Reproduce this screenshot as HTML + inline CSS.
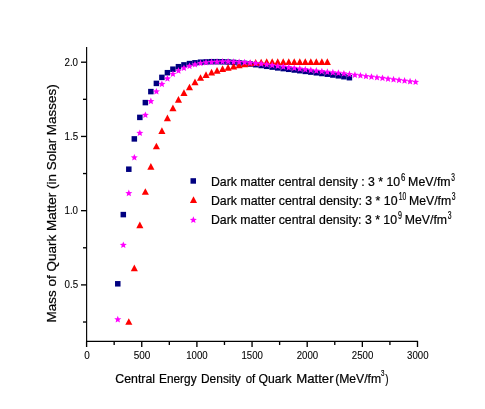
<!DOCTYPE html>
<html><head><meta charset="utf-8"><title>chart</title>
<style>
html,body{margin:0;padding:0;background:#fff;}
svg{display:block;font-family:"Liberation Sans",sans-serif;}
</style></head><body>
<svg width="485" height="409" viewBox="0 0 485 409">
<rect width="485" height="409" fill="#fff"/>

<g fill="#000080"><rect x="115.03" y="281.05" width="5.5" height="5.5"/><rect x="120.55" y="211.85" width="5.5" height="5.5"/><rect x="126.06" y="166.45" width="5.5" height="5.5"/><rect x="131.58" y="136.15" width="5.5" height="5.5"/><rect x="137.09" y="114.65" width="5.5" height="5.5"/><rect x="142.61" y="99.85" width="5.5" height="5.5"/><rect x="148.12" y="88.85" width="5.5" height="5.5"/><rect x="153.64" y="80.65" width="5.5" height="5.5"/><rect x="159.15" y="74.65" width="5.5" height="5.5"/><rect x="164.67" y="69.95" width="5.5" height="5.5"/><rect x="170.18" y="66.45" width="5.5" height="5.5"/><rect x="175.70" y="63.95" width="5.5" height="5.5"/><rect x="181.21" y="62.15" width="5.5" height="5.5"/><rect x="186.73" y="60.85" width="5.5" height="5.5"/><rect x="192.24" y="60.05" width="5.5" height="5.5"/><rect x="197.76" y="59.45" width="5.5" height="5.5"/><rect x="203.27" y="59.15" width="5.5" height="5.5"/><rect x="208.79" y="58.95" width="5.5" height="5.5"/><rect x="214.30" y="58.95" width="5.5" height="5.5"/><rect x="219.82" y="59.05" width="5.5" height="5.5"/><rect x="225.33" y="59.25" width="5.5" height="5.5"/><rect x="230.85" y="59.65" width="5.5" height="5.5"/><rect x="236.36" y="60.15" width="5.5" height="5.5"/><rect x="241.88" y="60.65" width="5.5" height="5.5"/><rect x="247.39" y="61.25" width="5.5" height="5.5"/><rect x="252.91" y="61.95" width="5.5" height="5.5"/><rect x="258.42" y="62.75" width="5.5" height="5.5"/><rect x="263.94" y="63.55" width="5.5" height="5.5"/><rect x="269.45" y="64.35" width="5.5" height="5.5"/><rect x="274.97" y="65.15" width="5.5" height="5.5"/><rect x="280.48" y="65.85" width="5.5" height="5.5"/><rect x="286.00" y="66.55" width="5.5" height="5.5"/><rect x="291.51" y="67.25" width="5.5" height="5.5"/><rect x="297.03" y="67.95" width="5.5" height="5.5"/><rect x="302.54" y="68.65" width="5.5" height="5.5"/><rect x="308.06" y="69.35" width="5.5" height="5.5"/><rect x="313.57" y="70.05" width="5.5" height="5.5"/><rect x="319.09" y="70.75" width="5.5" height="5.5"/><rect x="324.60" y="71.45" width="5.5" height="5.5"/><rect x="330.12" y="72.25" width="5.5" height="5.5"/><rect x="335.63" y="73.05" width="5.5" height="5.5"/><rect x="341.15" y="73.95" width="5.5" height="5.5"/><rect x="346.66" y="74.95" width="5.5" height="5.5"/></g>
<g fill="#ff0000"><polygon points="128.81,318.15 132.36,324.85 125.26,324.85"/><polygon points="134.33,264.55 137.88,271.25 130.78,271.25"/><polygon points="139.84,221.45 143.39,228.15 136.29,228.15"/><polygon points="145.36,188.15 148.91,194.85 141.81,194.85"/><polygon points="150.87,163.05 154.42,169.75 147.32,169.75"/><polygon points="156.39,142.65 159.94,149.35 152.84,149.35"/><polygon points="161.90,127.25 165.45,133.95 158.35,133.95"/><polygon points="167.42,114.55 170.97,121.25 163.87,121.25"/><polygon points="172.93,104.45 176.48,111.15 169.38,111.15"/><polygon points="178.45,96.05 182.00,102.75 174.90,102.75"/><polygon points="183.96,89.25 187.51,95.95 180.41,95.95"/><polygon points="189.48,83.65 193.03,90.35 185.93,90.35"/><polygon points="194.99,78.55 198.54,85.25 191.44,85.25"/><polygon points="200.51,74.15 204.06,80.85 196.96,80.85"/><polygon points="206.02,71.25 209.57,77.95 202.47,77.95"/><polygon points="211.54,68.75 215.09,75.45 207.99,75.45"/><polygon points="217.05,66.95 220.60,73.65 213.50,73.65"/><polygon points="222.57,65.35 226.12,72.05 219.02,72.05"/><polygon points="228.08,63.95 231.63,70.65 224.53,70.65"/><polygon points="233.60,62.75 237.15,69.45 230.05,69.45"/><polygon points="239.11,61.65 242.66,68.35 235.56,68.35"/><polygon points="244.63,60.55 248.18,67.25 241.08,67.25"/><polygon points="250.14,59.65 253.69,66.35 246.59,66.35"/><polygon points="255.66,59.05 259.21,65.75 252.11,65.75"/><polygon points="261.17,58.65 264.72,65.35 257.62,65.35"/><polygon points="266.69,58.35 270.24,65.05 263.14,65.05"/><polygon points="272.20,58.25 275.75,64.95 268.65,64.95"/><polygon points="277.72,58.25 281.27,64.95 274.17,64.95"/><polygon points="283.23,58.25 286.78,64.95 279.68,64.95"/><polygon points="288.75,58.25 292.30,64.95 285.20,64.95"/><polygon points="294.26,58.25 297.81,64.95 290.71,64.95"/><polygon points="299.78,58.25 303.33,64.95 296.23,64.95"/><polygon points="305.29,58.25 308.84,64.95 301.74,64.95"/><polygon points="310.81,58.25 314.36,64.95 307.26,64.95"/><polygon points="316.32,58.25 319.87,64.95 312.77,64.95"/><polygon points="321.84,58.25 325.39,64.95 318.29,64.95"/><polygon points="327.35,58.25 330.90,64.95 323.80,64.95"/></g>
<g fill="#ff00ff"><polygon points="117.78,315.80 118.75,318.17 121.30,318.36 119.35,320.01 119.96,322.49 117.78,321.15 115.61,322.49 116.21,320.01 114.27,318.36 116.81,318.17"/><polygon points="123.30,241.40 124.27,243.77 126.82,243.96 124.87,245.61 125.47,248.09 123.30,246.75 121.12,248.09 121.73,245.61 119.78,243.96 122.33,243.77"/><polygon points="128.81,189.60 129.78,191.97 132.33,192.16 130.38,193.81 130.99,196.29 128.81,194.95 126.64,196.29 127.24,193.81 125.30,192.16 127.84,191.97"/><polygon points="134.33,153.90 135.30,156.27 137.85,156.46 135.90,158.11 136.50,160.59 134.33,159.25 132.15,160.59 132.76,158.11 130.81,156.46 133.36,156.27"/><polygon points="139.84,129.40 140.81,131.77 143.36,131.96 141.41,133.61 142.02,136.09 139.84,134.75 137.67,136.09 138.27,133.61 136.33,131.96 138.87,131.77"/><polygon points="145.36,111.40 146.33,113.77 148.88,113.96 146.93,115.61 147.53,118.09 145.36,116.75 143.18,118.09 143.79,115.61 141.84,113.96 144.39,113.77"/><polygon points="150.87,97.60 151.84,99.97 154.39,100.16 152.44,101.81 153.05,104.29 150.87,102.95 148.70,104.29 149.30,101.81 147.36,100.16 149.90,99.97"/><polygon points="156.39,87.90 157.36,90.27 159.91,90.46 157.96,92.11 158.56,94.59 156.39,93.25 154.21,94.59 154.82,92.11 152.87,90.46 155.42,90.27"/><polygon points="161.90,80.50 162.87,82.87 165.42,83.06 163.47,84.71 164.08,87.19 161.90,85.85 159.73,87.19 160.33,84.71 158.39,83.06 160.93,82.87"/><polygon points="167.42,75.00 168.39,77.37 170.94,77.56 168.99,79.21 169.59,81.69 167.42,80.35 165.24,81.69 165.85,79.21 163.90,77.56 166.45,77.37"/><polygon points="172.93,70.40 173.90,72.77 176.45,72.96 174.50,74.61 175.11,77.09 172.93,75.75 170.76,77.09 171.36,74.61 169.42,72.96 171.96,72.77"/><polygon points="178.45,67.10 179.42,69.47 181.97,69.66 180.02,71.31 180.62,73.79 178.45,72.45 176.27,73.79 176.88,71.31 174.93,69.66 177.48,69.47"/><polygon points="183.96,64.40 184.93,66.77 187.48,66.96 185.53,68.61 186.14,71.09 183.96,69.75 181.79,71.09 182.39,68.61 180.45,66.96 182.99,66.77"/><polygon points="189.48,62.50 190.45,64.87 193.00,65.06 191.05,66.71 191.65,69.19 189.48,67.85 187.30,69.19 187.91,66.71 185.96,65.06 188.51,64.87"/><polygon points="194.99,60.90 195.96,63.27 198.51,63.46 196.56,65.11 197.17,67.59 194.99,66.25 192.82,67.59 193.42,65.11 191.48,63.46 194.02,63.27"/><polygon points="200.51,59.60 201.48,61.97 204.03,62.16 202.08,63.81 202.68,66.29 200.51,64.95 198.33,66.29 198.94,63.81 196.99,62.16 199.54,61.97"/><polygon points="206.02,58.80 206.99,61.17 209.54,61.36 207.59,63.01 208.20,65.49 206.02,64.15 203.85,65.49 204.45,63.01 202.51,61.36 205.05,61.17"/><polygon points="211.54,58.50 212.51,60.87 215.06,61.06 213.11,62.71 213.71,65.19 211.54,63.85 209.36,65.19 209.97,62.71 208.02,61.06 210.57,60.87"/><polygon points="217.05,58.20 218.02,60.57 220.57,60.76 218.62,62.41 219.23,64.89 217.05,63.55 214.88,64.89 215.48,62.41 213.54,60.76 216.08,60.57"/><polygon points="222.57,58.00 223.54,60.37 226.09,60.56 224.14,62.21 224.74,64.69 222.57,63.35 220.39,64.69 221.00,62.21 219.05,60.56 221.60,60.37"/><polygon points="228.08,58.00 229.05,60.37 231.60,60.56 229.65,62.21 230.26,64.69 228.08,63.35 225.91,64.69 226.51,62.21 224.57,60.56 227.11,60.37"/><polygon points="233.60,58.20 234.57,60.57 237.12,60.76 235.17,62.41 235.77,64.89 233.60,63.55 231.42,64.89 232.03,62.41 230.08,60.76 232.63,60.57"/><polygon points="239.11,58.40 240.08,60.77 242.63,60.96 240.68,62.61 241.29,65.09 239.11,63.75 236.94,65.09 237.54,62.61 235.60,60.96 238.14,60.77"/><polygon points="244.63,58.70 245.60,61.07 248.15,61.26 246.20,62.91 246.80,65.39 244.63,64.05 242.45,65.39 243.06,62.91 241.11,61.26 243.66,61.07"/><polygon points="250.14,59.20 251.11,61.57 253.66,61.76 251.71,63.41 252.32,65.89 250.14,64.55 247.97,65.89 248.57,63.41 246.63,61.76 249.17,61.57"/><polygon points="255.66,59.70 256.63,62.07 259.18,62.26 257.23,63.91 257.83,66.39 255.66,65.05 253.48,66.39 254.09,63.91 252.14,62.26 254.69,62.07"/><polygon points="261.17,60.20 262.14,62.57 264.69,62.76 262.74,64.41 263.35,66.89 261.17,65.55 259.00,66.89 259.60,64.41 257.66,62.76 260.20,62.57"/><polygon points="266.69,60.90 267.66,63.27 270.21,63.46 268.26,65.11 268.86,67.59 266.69,66.25 264.51,67.59 265.12,65.11 263.17,63.46 265.72,63.27"/><polygon points="272.20,61.60 273.17,63.97 275.72,64.16 273.77,65.81 274.38,68.29 272.20,66.95 270.03,68.29 270.63,65.81 268.69,64.16 271.23,63.97"/><polygon points="277.72,62.40 278.69,64.77 281.24,64.96 279.29,66.61 279.89,69.09 277.72,67.75 275.54,69.09 276.15,66.61 274.20,64.96 276.75,64.77"/><polygon points="283.23,63.10 284.20,65.47 286.75,65.66 284.80,67.31 285.41,69.79 283.23,68.45 281.06,69.79 281.66,67.31 279.72,65.66 282.26,65.47"/><polygon points="288.75,63.80 289.72,66.17 292.27,66.36 290.32,68.01 290.92,70.49 288.75,69.15 286.57,70.49 287.18,68.01 285.23,66.36 287.78,66.17"/><polygon points="294.26,64.40 295.23,66.77 297.78,66.96 295.83,68.61 296.44,71.09 294.26,69.75 292.09,71.09 292.69,68.61 290.75,66.96 293.29,66.77"/><polygon points="299.78,65.10 300.75,67.47 303.30,67.66 301.35,69.31 301.95,71.79 299.78,70.45 297.60,71.79 298.21,69.31 296.26,67.66 298.81,67.47"/><polygon points="305.29,65.80 306.26,68.17 308.81,68.36 306.86,70.01 307.47,72.49 305.29,71.15 303.12,72.49 303.72,70.01 301.78,68.36 304.32,68.17"/><polygon points="310.81,66.50 311.78,68.87 314.33,69.06 312.38,70.71 312.98,73.19 310.81,71.85 308.63,73.19 309.24,70.71 307.29,69.06 309.84,68.87"/><polygon points="316.32,67.10 317.29,69.47 319.84,69.66 317.89,71.31 318.50,73.79 316.32,72.45 314.15,73.79 314.75,71.31 312.81,69.66 315.35,69.47"/><polygon points="321.84,67.70 322.81,70.07 325.36,70.26 323.41,71.91 324.01,74.39 321.84,73.05 319.66,74.39 320.27,71.91 318.32,70.26 320.87,70.07"/><polygon points="327.35,68.30 328.32,70.67 330.87,70.86 328.92,72.51 329.53,74.99 327.35,73.65 325.18,74.99 325.78,72.51 323.84,70.86 326.38,70.67"/><polygon points="332.87,68.80 333.84,71.17 336.39,71.36 334.44,73.01 335.04,75.49 332.87,74.15 330.69,75.49 331.30,73.01 329.35,71.36 331.90,71.17"/><polygon points="338.38,69.30 339.35,71.67 341.90,71.86 339.95,73.51 340.56,75.99 338.38,74.65 336.21,75.99 336.81,73.51 334.87,71.86 337.41,71.67"/><polygon points="343.90,69.90 344.87,72.27 347.42,72.46 345.47,74.11 346.07,76.59 343.90,75.25 341.72,76.59 342.33,74.11 340.38,72.46 342.93,72.27"/><polygon points="349.41,70.60 350.38,72.97 352.93,73.16 350.98,74.81 351.59,77.29 349.41,75.95 347.24,77.29 347.84,74.81 345.90,73.16 348.44,72.97"/><polygon points="354.93,71.30 355.90,73.67 358.45,73.86 356.50,75.51 357.10,77.99 354.93,76.65 352.75,77.99 353.36,75.51 351.41,73.86 353.96,73.67"/><polygon points="360.44,71.90 361.41,74.27 363.96,74.46 362.01,76.11 362.62,78.59 360.44,77.25 358.27,78.59 358.87,76.11 356.93,74.46 359.47,74.27"/><polygon points="365.96,72.60 366.93,74.97 369.48,75.16 367.53,76.81 368.13,79.29 365.96,77.95 363.78,79.29 364.39,76.81 362.44,75.16 364.99,74.97"/><polygon points="371.47,73.20 372.44,75.57 374.99,75.76 373.04,77.41 373.65,79.89 371.47,78.55 369.30,79.89 369.90,77.41 367.96,75.76 370.50,75.57"/><polygon points="376.99,73.80 377.96,76.17 380.51,76.36 378.56,78.01 379.16,80.49 376.99,79.15 374.81,80.49 375.42,78.01 373.47,76.36 376.02,76.17"/><polygon points="382.50,74.50 383.47,76.87 386.02,77.06 384.07,78.71 384.68,81.19 382.50,79.85 380.33,81.19 380.93,78.71 378.99,77.06 381.53,76.87"/><polygon points="388.02,75.20 388.99,77.57 391.54,77.76 389.59,79.41 390.19,81.89 388.02,80.55 385.84,81.89 386.45,79.41 384.50,77.76 387.05,77.57"/><polygon points="393.53,75.80 394.50,78.17 397.05,78.36 395.10,80.01 395.71,82.49 393.53,81.15 391.36,82.49 391.96,80.01 390.02,78.36 392.56,78.17"/><polygon points="399.05,76.50 400.02,78.87 402.57,79.06 400.62,80.71 401.22,83.19 399.05,81.85 396.87,83.19 397.48,80.71 395.53,79.06 398.08,78.87"/><polygon points="404.56,77.10 405.53,79.47 408.08,79.66 406.13,81.31 406.74,83.79 404.56,82.45 402.39,83.79 402.99,81.31 401.05,79.66 403.59,79.47"/><polygon points="410.08,77.80 411.05,80.17 413.60,80.36 411.65,82.01 412.25,84.49 410.08,83.15 407.90,84.49 408.51,82.01 406.56,80.36 409.11,80.17"/><polygon points="415.59,78.40 416.56,80.77 419.11,80.96 417.16,82.61 417.77,85.09 415.59,83.75 413.42,85.09 414.02,82.61 412.08,80.96 414.62,80.77"/></g>
<g fill="#000080"><rect x="190.50" y="178.20" width="5.5" height="5.5"/></g>
<g fill="#ff0000"><polygon points="193.50,196.20 197.05,202.90 189.95,202.90"/></g>
<g fill="#ff00ff"><polygon points="193.35,216.35 194.32,218.72 196.87,218.91 194.92,220.56 195.52,223.04 193.35,221.70 191.18,223.04 191.78,220.56 189.83,218.91 192.38,218.72"/></g>
<g stroke="#000" stroke-width="1" fill="none">
<line x1="86.62" y1="47.1" x2="86.62" y2="342.0" stroke-width="1.15"/>
<line x1="86.05" y1="341.35" x2="418.1" y2="341.35" stroke-width="1.3"/>
<line x1="86.60" y1="341.5" x2="86.60" y2="347.0" stroke-width="1.35"/>
<line x1="114.17" y1="341.5" x2="114.17" y2="345.0" stroke-width="1.35"/>
<line x1="141.75" y1="341.5" x2="141.75" y2="347.0" stroke-width="1.35"/>
<line x1="169.32" y1="341.5" x2="169.32" y2="345.0" stroke-width="1.35"/>
<line x1="196.90" y1="341.5" x2="196.90" y2="347.0" stroke-width="1.35"/>
<line x1="224.47" y1="341.5" x2="224.47" y2="345.0" stroke-width="1.35"/>
<line x1="252.05" y1="341.5" x2="252.05" y2="347.0" stroke-width="1.35"/>
<line x1="279.62" y1="341.5" x2="279.62" y2="345.0" stroke-width="1.35"/>
<line x1="307.20" y1="341.5" x2="307.20" y2="347.0" stroke-width="1.35"/>
<line x1="334.77" y1="341.5" x2="334.77" y2="345.0" stroke-width="1.35"/>
<line x1="362.35" y1="341.5" x2="362.35" y2="347.0" stroke-width="1.35"/>
<line x1="389.92" y1="341.5" x2="389.92" y2="345.0" stroke-width="1.35"/>
<line x1="417.50" y1="341.5" x2="417.50" y2="347.0" stroke-width="1.35"/>
<line x1="83.00" y1="322.02" x2="86.5" y2="322.02" stroke-width="1.35"/>
<line x1="81.00" y1="284.90" x2="86.5" y2="284.90" stroke-width="1.35"/>
<line x1="83.00" y1="247.79" x2="86.5" y2="247.79" stroke-width="1.35"/>
<line x1="81.00" y1="210.67" x2="86.5" y2="210.67" stroke-width="1.35"/>
<line x1="83.00" y1="173.55" x2="86.5" y2="173.55" stroke-width="1.35"/>
<line x1="81.00" y1="136.44" x2="86.5" y2="136.44" stroke-width="1.35"/>
<line x1="83.00" y1="99.32" x2="86.5" y2="99.32" stroke-width="1.35"/>
<line x1="81.00" y1="62.20" x2="86.5" y2="62.20" stroke-width="1.35"/>
</g>
<g fill="#000" stroke="#000" stroke-width="0.22" opacity="0.999">
<g stroke-width="0.1">
<text transform="translate(84.15,359.00) scale(0.9500,1)" font-size="10.5">0</text>
<text transform="translate(133.74,359.00) scale(0.9500,1)" font-size="10.5">500</text>
<text transform="translate(186.25,359.00) scale(0.9200,1)" font-size="10.5">1000</text>
<text transform="translate(241.40,359.00) scale(0.9200,1)" font-size="10.5">1500</text>
<text transform="translate(296.69,359.00) scale(0.9200,1)" font-size="10.5">2000</text>
<text transform="translate(351.84,359.00) scale(0.9200,1)" font-size="10.5">2500</text>
<text transform="translate(407.04,359.00) scale(0.9200,1)" font-size="10.5">3000</text>
<text transform="translate(64.59,288.10) scale(0.9300,1)" font-size="10.5">0.5</text>
<text transform="translate(64.49,214.07) scale(0.9300,1)" font-size="10.5">1.0</text>
<text transform="translate(64.59,140.13) scale(0.9300,1)" font-size="10.5">1.5</text>
<text transform="translate(64.49,66.05) scale(0.9300,1)" font-size="10.5">2.0</text>
</g>
<text transform="translate(115.36,382.60) scale(0.9783,1)" font-size="12.6" xml:space="preserve">Central</text>
<text transform="translate(158.96,382.60) scale(0.9434,1)" font-size="12.6" xml:space="preserve">Energy</text>
<text transform="translate(201.00,382.60) scale(0.9476,1)" font-size="12.6" xml:space="preserve">Density</text>
<text transform="translate(245.74,382.60) scale(0.9100,1)" font-size="12.6" xml:space="preserve">of</text>
<text transform="translate(258.42,382.60) scale(0.9703,1)" font-size="12.6" xml:space="preserve">Quark</text>
<text transform="translate(296.15,382.60) scale(1.0493,1)" font-size="12.6" xml:space="preserve">Matter</text>
<text transform="translate(335.13,382.60) scale(0.9674,1)" font-size="12.6" xml:space="preserve">(MeV/fm</text>
<text transform="translate(381.12,375.80) scale(0.6905,1)" font-size="9" xml:space="preserve">3</text>
<text transform="translate(385.22,382.60) scale(0.7879,1)" font-size="12.6" xml:space="preserve">)</text>
<text transform="translate(55.60,322.47) rotate(-90) scale(1.0706,1)" font-size="12.6" xml:space="preserve">Mass of Quark Matter (in Solar Masses)</text>
<text transform="translate(210.92,185.70) scale(0.9771,1)" font-size="12.6" xml:space="preserve">Dark matter central density : 3 * 10</text>
<text transform="translate(400.91,180.70) scale(0.7826,1)" font-size="10" xml:space="preserve">6</text>
<text transform="translate(408.12,185.70) scale(0.9808,1)" font-size="12.6" xml:space="preserve">MeV/fm</text>
<text transform="translate(451.24,180.70) scale(0.6596,1)" font-size="10" xml:space="preserve">3</text>
<text transform="translate(210.92,204.80) scale(0.9799,1)" font-size="12.6" xml:space="preserve">Dark matter central density: 3 * 10</text>
<text transform="translate(398.66,199.80) scale(0.6768,1)" font-size="10" xml:space="preserve">10</text>
<text transform="translate(408.93,204.80) scale(0.9736,1)" font-size="12.6" xml:space="preserve">MeV/fm</text>
<text transform="translate(451.73,199.80) scale(0.6809,1)" font-size="10" xml:space="preserve">3</text>
<text transform="translate(210.92,224.10) scale(0.9778,1)" font-size="12.6" xml:space="preserve">Dark matter central density: 3 * 10</text>
<text transform="translate(398.04,219.10) scale(0.7174,1)" font-size="10" xml:space="preserve">9</text>
<text transform="translate(404.83,224.10) scale(0.9736,1)" font-size="12.6" xml:space="preserve">MeV/fm</text>
<text transform="translate(447.63,219.10) scale(0.6809,1)" font-size="10" xml:space="preserve">3</text>
</g>
</svg></body></html>
